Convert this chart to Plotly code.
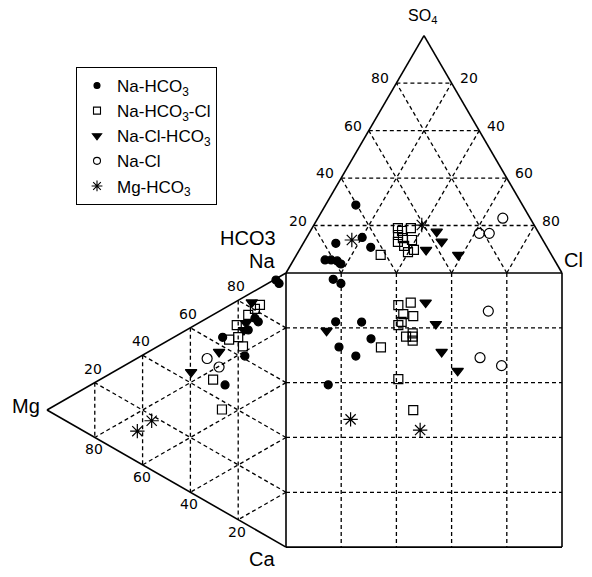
import numpy as np
import plotly.graph_objects as go

S3 = np.sqrt(3) / 2

# ---------------- data (percent values) ----------------
groups = ["Na-HCO<sub>3</sub>", "Na-HCO<sub>3</sub>-Cl", "Na-Cl-HCO<sub>3</sub>", "Na-Cl", "Mg-HCO<sub>3</sub>"]

# anion triangle: SO4 %, Cl %  (HCO3 = 100 - SO4 - Cl)
an_so4 = {
    0: [28.6, 12.5, 15.0, 10.8, 5.5, 5.5, 5.1, 3.8],
    1: [18.9, 18.9, 16.0, 14.7, 13.1, 13.9, 11.4, 9.7, 7.6, 17.7, 8.8],
    2: [17.4, 13.2, 9.7, 7.6],
    3: [23.1, 16.7, 16.7],
    4: [13.9, 20.2],
}
an_cl = {
    0: [11.0, 11.8, 20.1, 25.3, 11.4, 13.6, 16.0, 18.0],
    1: [31.1, 35.8, 32.6, 35.0, 34.0, 38.7, 37.1, 41.5, 30.5, 33.2, 39.8],
    2: [45.9, 49.8, 45.9, 58.6],
    3: [67.0, 61.7, 65.3],
    4: [16.9, 39.1],
}
# cation triangle: Mg %, Ca %  (Na = 100 - Mg - Ca)
cat_mg = {
    0: [4.2, 2.9, 11.6, 15.8, 26.5, 17.2, 25.5, 13.0],
    1: [10.9, 13.0, 15.8, 20.6, 23.8, 20.0, 18.0, 30.5, 26.8],
    2: [14.3, 16.7, 17.6, 28.0, 39.7],
    3: [33.0, 28.0],
    4: [56.2, 62.2],
}
cat_ca = {
    0: [0.45, 2.35, 12.0, 12.9, 10.2, 21.7, 28.1, 10.0],
    1: [6.2, 6.6, 7.4, 8.7, 12.4, 13.4, 17.8, 23.65, 36.4],
    2: [3.6, 9.9, 12.0, 14.8, 16.3],
    3: [14.7, 20.3],
    4: [25.8, 26.6],
}
# central square: projected anion position (0-100, left to right), cation position (0-100, top to bottom)
sq_x = {
    0: [17.1, 19.9, 18.0, 27.4, 30.8, 19.2, 25.3, 15.3],
    1: [40.7, 45.2, 42.5, 46.1, 41.9, 40.7, 43.5, 45.9, 45.9, 45.9, 34.4, 40.7, 46.1],
    2: [50.6, 54.3, 56.4, 62.2, 14.7],
    3: [73.3, 70.3, 78.1],
    4: [23.4, 48.6],
}
sq_y = {
    0: [2.3, 3.8, 17.8, 17.9, 24.0, 27.0, 30.3, 40.8],
    1: [11.7, 10.8, 15.0, 15.7, 17.8, 19.0, 23.2, 22.0, 23.2, 24.7, 27.1, 38.7, 50.0],
    2: [10.8, 18.6, 28.8, 35.7, 21.1],
    3: [13.9, 30.9, 33.8],
    4: [53.4, 57.3],
}
grid_vals = [20, 40, 60, 80]

# ---------------- styling ----------------
sym = ["circle", "square-open", "triangle-down", "circle-open", "asterisk-open"]
msize = [8, 9, 10, 10, 12]
lsize = [6, 7, 8, 7, 9]

# page body has an 8px margin: figure is drawn 8px in from the window edge
W, H = 584, 569
OFF = 8


def an_xy(so4, cl):
    so4 = np.asarray(so4, float); cl = np.asarray(cl, float)
    return cl + so4 / 2, so4 * S3


def cat_xy(mg, ca):
    mg = np.asarray(mg, float); ca = np.asarray(ca, float)
    return -mg * S3, -(ca + mg / 2)


fig = go.Figure()


def add_lines(segs, dash=None, width=1.2):
    xs, ys = [], []
    for (x0, y0), (x1, y1) in segs:
        xs += [x0, x1, None]; ys += [y0, y1, None]
    fig.add_trace(go.Scatter(x=xs, y=ys, mode="lines", showlegend=False, hoverinfo="skip",
                             line=dict(color="black", width=width, dash=dash)))


# dashed grids
segs = []
for v in grid_vals:
    segs.append(((v, 0), (v, -100)))
    segs.append(((0, -v), (100, -v)))
    segs.append(((v / 2, S3 * v), (100 - v / 2, S3 * v)))                 # const SO4
    segs.append(((v, 0), (v + (100 - v) / 2, S3 * (100 - v))))            # const Cl
    segs.append(((v, 0), (v / 2, S3 * v)))                                 # const HCO3
    segs.append(((-S3 * v, -v / 2), (-S3 * v, -(100 - v / 2))))            # const Mg
    segs.append(((0, -(100 - v)), (-S3 * (100 - v), -(100 - v) / 2)))     # const Na
    segs.append(((0, -v), (-S3 * (100 - v), -(v + (100 - v) / 2))))       # const Ca
add_lines(segs, dash="4px,3px", width=1.3)

# outlines
out = [((0, 0), (100, 0)), ((100, 0), (100, -100)), ((100, -100), (0, -100)), ((0, -100), (0, 0)),
       ((0, 0), (50, 100 * S3)), ((50, 100 * S3), (100, 0)),
       ((0, 0), (-100 * S3, -50)), ((-100 * S3, -50), (0, -100))]
add_lines(out, width=1.6)

# data markers
for g in range(5):
    ax, ay = an_xy(an_so4[g], an_cl[g])
    cx, cy = cat_xy(cat_mg[g], cat_ca[g])
    xs = list(ax) + list(cx) + list(sq_x[g])
    ys = list(ay) + list(cy) + [-v for v in sq_y[g]]
    fig.add_trace(go.Scatter(x=xs, y=ys, mode="markers", showlegend=False,
                             marker=dict(symbol=sym[g], size=msize[g], color="black",
                                         line=dict(color="black", width=1.2))))
    fig.add_trace(go.Scatter(x=[None], y=[None], mode="markers", name=groups[g],
                             marker=dict(symbol=sym[g], size=lsize[g], color="black",
                                         line=dict(color="black", width=1.1))))

# tick labels
ann = []
tf = dict(family="DejaVu Sans", size=14, color="black")
for v in grid_vals:
    ann.append(dict(x=v / 2, y=S3 * v, text=str(v), xshift=-16, yshift=5, font=tf))
    ann.append(dict(x=v + (100 - v) / 2, y=S3 * (100 - v), text=str(v), xshift=17, yshift=5, font=tf))
    ann.append(dict(x=-S3 * (100 - v), y=-(100 - v) / 2, text=str(v), xshift=-2, yshift=14, font=tf))
    ann.append(dict(x=-S3 * v, y=-(100 - v / 2), text=str(v), xshift=-1, yshift=-12, font=tf))

cf = dict(family="Liberation Sans", size=20, color="black")
ann.append(dict(x=50, y=100 * S3, text="SO<sub>4</sub>", yshift=19, xshift=-2,
                font=dict(family="Liberation Sans", size=16, color="black")))
ann.append(dict(x=100, y=0, text="Cl", xshift=11, yshift=13, font=cf))
ann.append(dict(x=0, y=0, text="HCO3", xshift=-38, yshift=35, font=cf))
ann.append(dict(x=0, y=0, text="Na", xshift=-24, yshift=12, font=cf))
ann.append(dict(x=-100 * S3, y=-50, text="Mg", xshift=-21, yshift=4, font=cf))
ann.append(dict(x=0, y=-100, text="Ca", xshift=-24, yshift=-12, font=cf))
for a in ann:
    a.update(showarrow=False, xanchor="center", yanchor="middle", xref="x", yref="y")

# page pixel (px, py) <-> data: px = 286 + 2.76 x ; py = 273 - 2.741 y
x0 = (OFF - 286) / 2.76
x1 = (OFF + W - 286) / 2.76
ytop = (273 - OFF) / 2.741
ybot = (273 - (OFF + H)) / 2.741

fig.update_layout(
    width=W, height=H, margin=dict(l=0, r=0, t=0, b=0),
    paper_bgcolor="white", plot_bgcolor="white",
    xaxis=dict(range=[x0, x1], visible=False, fixedrange=True),
    yaxis=dict(range=[ybot, ytop], visible=False, fixedrange=True),
    annotations=ann,
    legend=dict(x=(76 - OFF) / W, y=1 - (67 - OFF) / H, xanchor="left", yanchor="top",
                bgcolor="white", bordercolor="black", borderwidth=1,
                font=dict(family="Liberation Sans", size=17, color="black"),
                tracegroupgap=0),
    showlegend=True,
)
fig.write_html("out.html")
